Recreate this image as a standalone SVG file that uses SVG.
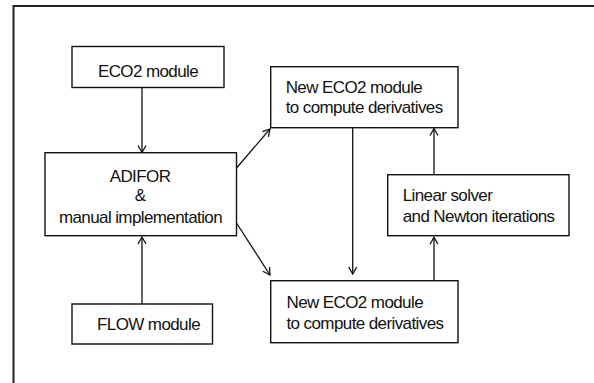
<svg xmlns="http://www.w3.org/2000/svg" width="594" height="383" viewBox="0 0 594 383">
<style>
.box{fill:#fff;stroke:#111;stroke-width:1.4}
.t{font-family:"Liberation Sans",Arial,sans-serif;font-size:17px;fill:#111;letter-spacing:-0.6px}
.c{stroke:#111;stroke-width:1.3;fill:none}
</style>
<defs>
<marker id="ah" markerUnits="userSpaceOnUse" markerWidth="12" markerHeight="12" viewBox="0 0 12 12" refX="9" refY="5" orient="auto">
<path d="M2,1 L9,5 L2,9" fill="none" stroke="#111" stroke-width="1.3"/>
</marker>
</defs>
<rect width="594" height="383" fill="#fff"/>
<g id="frame">
<path d="M13.5,383 V6 H594" fill="none" stroke="#222" stroke-width="2"/>
</g>
<g id="connectors">
<line class="c" x1="142" y1="87.5" x2="142" y2="152.5" marker-end="url(#ah)"/>
<line class="c" x1="142" y1="304" x2="142" y2="237" marker-end="url(#ah)"/>
<line class="c" x1="236.5" y1="168" x2="270" y2="129" marker-end="url(#ah)"/>
<line class="c" x1="236.5" y1="223" x2="270" y2="275" marker-end="url(#ah)"/>
<line class="c" x1="352.7" y1="127.7" x2="352.7" y2="274" marker-end="url(#ah)"/>
<line class="c" x1="434" y1="280.7" x2="434" y2="237.3" marker-end="url(#ah)"/>
<line class="c" x1="434" y1="174.7" x2="434" y2="128.5" marker-end="url(#ah)"/>
</g>
<g id="eco2">
<rect class="box" x="72" y="46.5" width="152" height="41"/>
<text class="t" x="148" y="77" text-anchor="middle">ECO2 module</text>
</g>
<g id="adifor">
<rect class="box" x="45" y="152.7" width="191.5" height="83"/>
<text class="t" x="140" y="181.5" text-anchor="middle">ADIFOR</text>
<text class="t" x="140" y="201" text-anchor="middle">&amp;</text>
<text class="t" x="140.5" y="222.5" text-anchor="middle">manual implementation</text>
</g>
<g id="flow">
<rect class="box" x="72" y="304" width="140.5" height="40"/>
<text class="t" x="148.5" y="330" text-anchor="middle">FLOW module</text>
</g>
<g id="neweco2top">
<rect class="box" x="270.7" y="66.7" width="187.3" height="61"/>
<text class="t" x="285.7" y="92.7">New ECO2 module</text>
<text class="t" x="285.7" y="113.3">to compute derivatives</text>
</g>
<g id="neweco2bottom">
<rect class="box" x="270.7" y="280.7" width="187.3" height="62"/>
<text class="t" x="286.5" y="308.3">New ECO2 module</text>
<text class="t" x="286.5" y="329">to compute derivatives</text>
</g>
<g id="linear">
<rect class="box" x="387.7" y="174.7" width="181.3" height="61"/>
<text class="t" x="402.7" y="201">Linear solver</text>
<text class="t" x="402.7" y="222.3">and Newton iterations</text>
</g>
</svg>
